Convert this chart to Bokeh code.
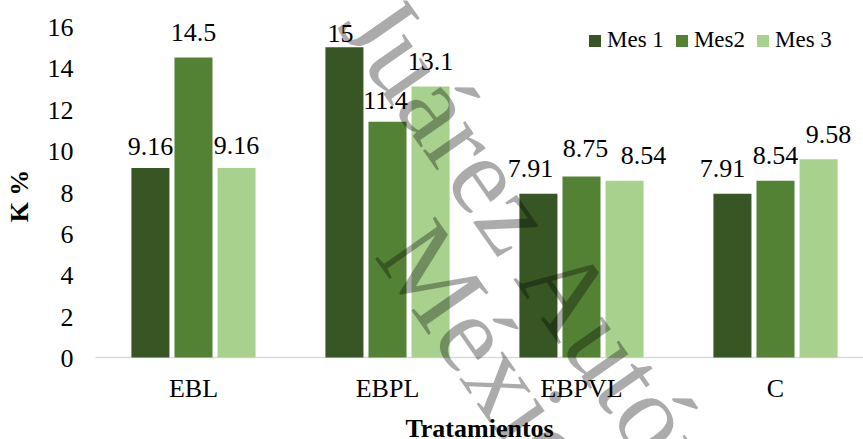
import math

from bokeh.plotting import figure
from bokeh.models import ColumnDataSource, Range1d, Legend, LegendItem, Label
from bokeh.embed import file_html
from bokeh.resources import INLINE
from bokeh.core.properties import value

# --- data -----------------------------------------------------------------
tratamientos = ["EBL", "EBPL", "EBPVL", "C"]
mes_1 = [9.16, 15, 7.91, 7.91]
mes_2 = [14.5, 11.4, 8.75, 8.54]
mes_3 = [9.16, 13.1, 8.54, 9.58]
series_names = ["Mes 1", "Mes2", "Mes 3"]
y_ticks = [0, 2, 4, 6, 8, 10, 12, 14, 16]

# --- styling --------------------------------------------------------------
FONT = "Liberation Serif"
colors = ["#375623", "#548235", "#A9D18E"]
group_offsets = [-0.222, 0.0, 0.222]
bar_width = 0.196

# plotting area (in data units) and the full canvas extent around it
PLOT_X0, PLOT_X1 = -0.505, 3.454
Y_MIN, Y_MAX = 0, 16
CANVAS_X = (-0.9948, 3.4536)
CANVAS_Y = (-3.9637, 17.2568)

# manual nudges of the value labels, in pixels
label_dx = [[0, -4, -8, -10], [0, -2, 4, 0], [0, 0, 19, 10]]
label_dy = [[3, 11, 0, 0], [0, 4, -3, 0], [2, 0, 0, 0]]
LABEL_LIFT = 25

# the frame fills the whole canvas; axes are drawn as glyphs so that
# the diagonal watermark can run across the margins as well
p = figure(width=863, height=439,
           x_range=Range1d(*CANVAS_X), y_range=Range1d(*CANVAS_Y),
           x_axis_location=None, y_axis_location=None,
           output_backend="svg", toolbar_location=None,
           min_border=0, min_border_left=0, min_border_right=0,
           min_border_top=0, min_border_bottom=0)
p.outline_line_color = None
p.xgrid.visible = False
p.ygrid.visible = False
p.background_fill_color = "white"
p.border_fill_color = "white"

# category axis line
p.segment(x0=[PLOT_X0], y0=[0], x1=[PLOT_X1], y1=[0],
          line_color="#D9D9D9", line_width=1.5)

series = [mes_1, mes_2, mes_3]
legend_items = []
for j, vals in enumerate(series):
    src = ColumnDataSource(dict(
        x=[i + group_offsets[j] for i in range(len(tratamientos))],
        top=vals,
        label=[f"{v:g}" for v in vals],
        dx=label_dx[j],
        dy=[-LABEL_LIFT + d for d in label_dy[j]],
    ))
    r = p.vbar(x="x", top="top", bottom=0, width=bar_width, source=src,
               fill_color=colors[j], line_color=None)
    p.text(x="x", y="top", text="label", x_offset="dx", y_offset="dy",
           source=src, text_align="center", text_baseline="middle",
           text_font=value(FONT), text_font_size="26px", text_color="black")
    legend_items.append(LegendItem(label=series_names[j], renderers=[r]))

# value-axis tick labels
p.text(x=[PLOT_X0] * len(y_ticks), y=y_ticks, text=[str(t) for t in y_ticks],
       x_offset=-22, y_offset=1, text_align="right", text_baseline="middle",
       text_font=value(FONT), text_font_size="26px", text_color="black")

# category labels
p.text(x=list(range(len(tratamientos))), y=[0] * len(tratamientos),
       text=tratamientos, y_offset=31, text_align="center",
       text_baseline="middle",
       text_font=value(FONT), text_font_size="26px", text_color="black")

# axis titles
p.text(x=[(PLOT_X0 + PLOT_X1) / 2], y=[0], text=["Tratamientos"], y_offset=71,
       text_align="center", text_baseline="middle",
       text_font=value(FONT), text_font_size="26px", text_font_style="bold",
       text_color="black")
p.text(x=[PLOT_X0], y=[(Y_MIN + Y_MAX) / 2], text=["K %"], angle=math.pi / 2,
       x_offset=-76, y_offset=4, text_align="center", text_baseline="middle",
       text_font=value(FONT), text_font_size="26px", text_font_style="bold",
       text_color="black")

legend = Legend(items=legend_items, orientation="horizontal",
                location=(587, 386), padding=0, margin=0,
                border_line_color=None, background_fill_alpha=0,
                label_text_font=FONT, label_text_font_size="23px",
                label_text_color="black",
                glyph_width=15, glyph_height=15,
                label_standoff=5, spacing=10)
p.add_layout(legend)

# repository watermark
wm_angle = -math.radians(55)
for txt, wx, wy in [("Juárez Autónoma", 0.8954, 17.058), ("México", 1.0866, 5.965)]:
    p.add_layout(Label(x=wx, y=wy, text=txt, angle=wm_angle,
                       text_font=FONT, text_font_size="112px",
                       text_color="black", text_alpha=0.33,
                       text_baseline="middle", text_align="left"))

open("out.html", "w").write(file_html(p, INLINE))
